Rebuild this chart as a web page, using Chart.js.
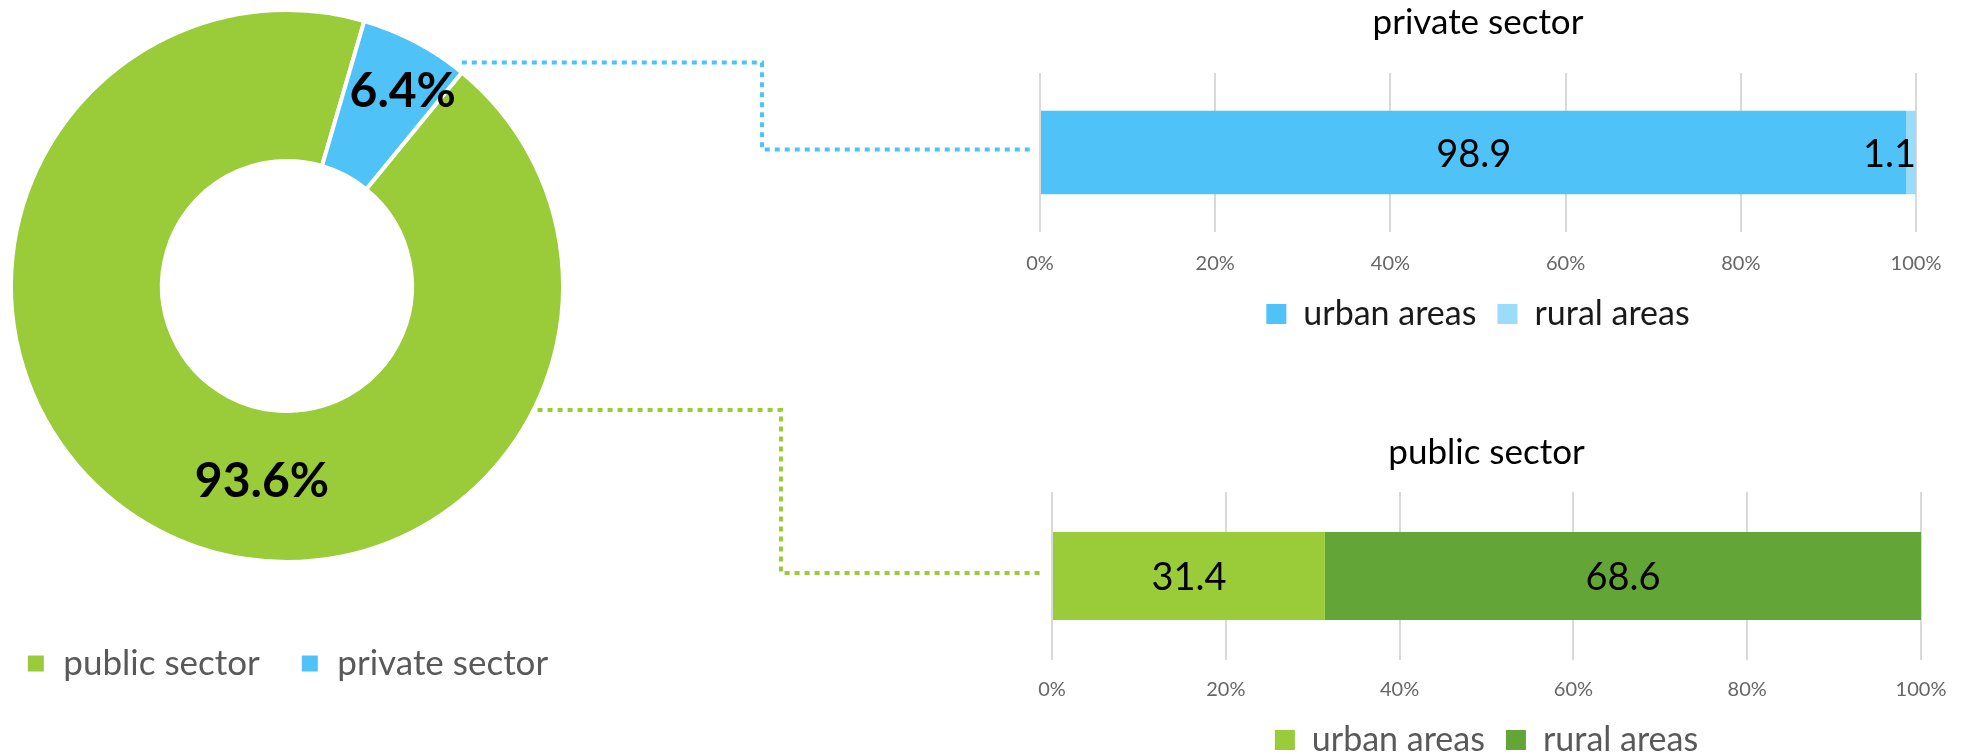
<!DOCTYPE html>
<html>
<head>
<meta charset="utf-8">
<title>Sector split</title>
<script src="https://cdn.jsdelivr.net/npm/chart.js@4.4.0/dist/chart.umd.min.js"></script>
<style>
  html, body { margin: 0; padding: 0; background: #fff; width: 1969px; height: 754px; overflow: hidden; }
  .box { position: absolute; }
  #share-box { left: -40px; top: -34px; width: 654px; height: 725px; }
  #private-box { left: 1000px; top: 0; width: 969px; height: 341px; }
  #public-box { left: 1000px; top: 430px; width: 969px; height: 337px; }
  #links { position: absolute; left: 0; top: 0; pointer-events: none; }
</style>
</head>
<body>
<div class="box" id="share-box"><canvas id="share-chart"></canvas></div>
<div class="box" id="private-box"><canvas id="private-chart"></canvas></div>
<div class="box" id="public-box"><canvas id="public-chart"></canvas></div>
<canvas id="links" width="1969" height="754"></canvas>
<script>
const sectors = ['public sector', 'private sector'];
const sectorShare = [93.6, 6.4];
const areas = ['urban areas', 'rural areas'];
const privateSplit = [98.9, 1.1];
const publicSplit = [31.4, 68.6];
const percentTicks = ['0%', '20%', '40%', '60%', '80%', '100%'];

const GREEN = '#9ACB38';
const DARK_GREEN = '#63A537';
const BLUE = '#4FC3F7';
const LIGHT_BLUE = '#9ADCF9';
const FONT = 'Lato';

Chart.defaults.font.family = FONT;
Chart.defaults.animation = false;

// percent labels inside the doughnut ring
const arcLabels = {
  id: 'arcLabels',
  afterDatasetsDraw(chart, args, opts) {
    const ctx = chart.ctx;
    ctx.save();
    ctx.font = 'bold 48px ' + FONT;
    ctx.fillStyle = '#000';
    ctx.textAlign = 'center';
    ctx.textBaseline = 'middle';
    chart.getDatasetMeta(0).data.forEach((arc, i) => {
      const p = arc.getProps(['x', 'y', 'startAngle', 'endAngle', 'innerRadius', 'outerRadius'], true);
      const a = (p.startAngle + p.endAngle) / 2 + opts.shift[i] * Math.PI / 180;
      const r = p.innerRadius + (p.outerRadius - p.innerRadius) * opts.depth[i];
      ctx.fillText(sectorShare[i].toFixed(1) + '%', p.x + r * Math.cos(a), p.y + r * Math.sin(a));
    });
    ctx.restore();
  }
};

// value labels centred on each bar segment
const barLabels = {
  id: 'barLabels',
  afterDatasetsDraw(chart) {
    const {ctx, chartArea} = chart;
    ctx.save();
    ctx.font = '38px ' + FONT;
    ctx.fillStyle = '#000';
    ctx.textAlign = 'center';
    ctx.textBaseline = 'middle';
    chart.data.datasets.forEach((ds, i) => {
      chart.getDatasetMeta(i).data.forEach((bar, j) => {
        const text = ds.data[j].toFixed(1);
        const w = ctx.measureText(text).width;
        const p = bar.getProps(['x', 'y', 'base'], true);
        const cx = Math.min((p.x + p.base) / 2, chartArea.right - w / 2);
        ctx.fillText(text, cx, p.y + 2);
      });
    });
    ctx.restore();
  }
};

const shareChart = new Chart(document.getElementById('share-chart'), {
  type: 'doughnut',
  data: {
    labels: sectors,
    datasets: [{
      data: sectorShare,
      backgroundColor: [GREEN, BLUE],
      borderColor: '#fff',
      borderWidth: 4,
      radius: 276,
      cutout: '45.3%'
    }]
  },
  options: {
    responsive: true,
    maintainAspectRatio: false,
    rotation: 39.3,
    layout: { padding: 0 },
    plugins: {
      legend: {
        position: 'bottom',
        labels: {
          boxWidth: 20, boxHeight: 20, padding: 40,
          color: '#595959',
          font: { size: 35, family: FONT }
        }
      },
      tooltip: { enabled: false },
      arcLabels: { shift: [-20.5, 3], depth: [0.48, 0.67] }
    }
  },
  plugins: [arcLabels]
});

function splitChart(id, title, values, colors, legendColor, pad) {
  return new Chart(document.getElementById(id), {
    type: 'bar',
    data: {
      labels: [title],
      datasets: areas.map((name, i) => ({
        label: name,
        data: [values[i]],
        backgroundColor: colors[i],
        barPercentage: 0.525,
        categoryPercentage: 1
      }))
    },
    options: {
      indexAxis: 'y',
      responsive: true,
      maintainAspectRatio: false,
      layout: { padding: { left: pad.left, right: pad.right, top: 0, bottom: 0 } },
      scales: {
        x: {
          stacked: true,
          min: 0, max: 100,
          ticks: {
            stepSize: 20,
            padding: 0,
            color: '#666',
            font: { size: 20 },
            callback: (v, i) => percentTicks[i]
          },
          grid: { color: '#d9d9d9', lineWidth: 2, drawTicks: true, tickLength: pad.tick, tickColor: 'rgba(0,0,0,0)' },
          border: { display: false }
        },
        y: { stacked: true, display: false }
      },
      plugins: {
        title: {
          display: true,
          text: title,
          color: '#000',
          font: { size: 35, weight: 'normal' },
          padding: { top: 2, bottom: pad.title }
        },
        legend: {
          position: 'bottom',
          labels: {
            boxWidth: 20, boxHeight: 20, padding: 21,
            color: legendColor,
            font: { size: 34 }
          }
        },
        tooltip: { enabled: false }
      }
    },
    plugins: [barLabels]
  });
}

const privateChart = splitChart('private-chart', 'private sector', privateSplit, [BLUE, LIGHT_BLUE], '#1a1a1a',
  { left: 40, right: 53, tick: 20, title: 29 });
const publicChart = splitChart('public-chart', 'public sector', publicSplit, [GREEN, DARK_GREEN], '#595959',
  { left: 52, right: 48, tick: 18, title: 18 });

// dotted connectors from the doughnut to the bar charts
function drawLinks() {
  const ctx = document.getElementById('links').getContext('2d');
  const offset = el => el.canvas.getBoundingClientRect();
  const arcs = shareChart.getDatasetMeta(0).data;
  const so = offset(shareChart);

  function link(startX, startY, elbowX, chart, color) {
    const bar = chart.getDatasetMeta(0).data[0];
    const o = offset(chart);
    const endX = o.left + chart.chartArea.left - 8;
    const endY = o.top + bar.y - 3;
    ctx.save();
    ctx.strokeStyle = color;
    ctx.lineWidth = 4;
    ctx.setLineDash([5, 5]);
    ctx.beginPath();
    ctx.moveTo(startX, startY);
    ctx.lineTo(elbowX, startY);
    ctx.lineTo(elbowX, endY);
    ctx.lineTo(endX, endY);
    ctx.stroke();
    ctx.restore();
  }

  const priv = arcs[1];
  const pa = priv.endAngle;
  const px = so.left + priv.x + priv.outerRadius * Math.cos(pa);
  const py = so.top + priv.y + priv.outerRadius * Math.sin(pa) - 10;
  link(px, py, 762, privateChart, BLUE);

  const pub = arcs[0];
  const ga = 26.7 * Math.PI / 180;
  const gx = so.left + pub.x + pub.outerRadius * Math.cos(ga);
  const gy = so.top + pub.y + pub.outerRadius * Math.sin(ga);
  link(gx + 4, gy, 781, publicChart, GREEN);
}
drawLinks();
</script>
</body>
</html>
